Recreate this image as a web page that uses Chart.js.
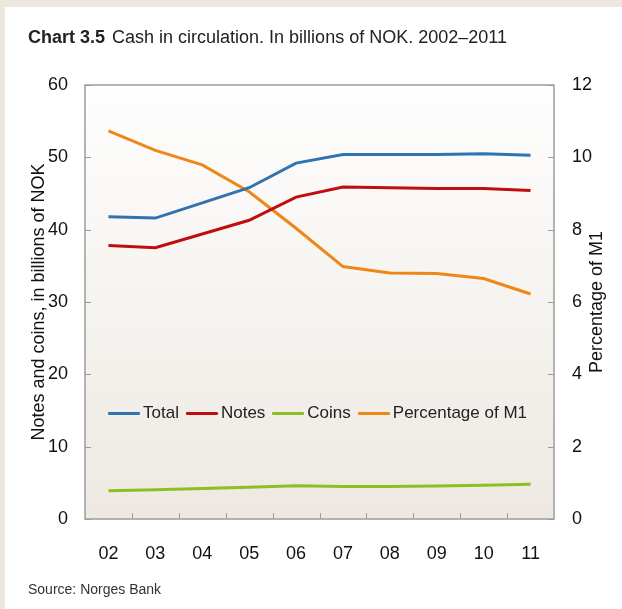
<!DOCTYPE html>
<html>
<head>
<meta charset="utf-8">
<script src="https://cdn.jsdelivr.net/npm/chart.js@4.4.1/dist/chart.umd.min.js"></script>
<style>
  body { margin: 0; background: #fff; font-family: "Liberation Sans", Arial, sans-serif; color: #222; }
  #wrap { position: relative; width: 622px; height: 609px; overflow: hidden; }
  #c { position: absolute; left: 0; top: 0; }
  .strip { position: absolute; background: #ece7df; }
  #title { position: absolute; left: 28px; top: 27px; font-size: 18px; white-space: nowrap; }
  #title b { margin-right: 7px; }
  #source { position: absolute; left: 28px; top: 581px; font-size: 14px; color: #333; }
  #legend { position: absolute; left: 108px; top: 403px; font-size: 17px; white-space: nowrap; }
  #legend span.item { display: inline-block; margin-right: 7px; }
  #legend i { display: inline-block; width: 32px; height: 3px; vertical-align: middle; margin-right: 3px; border-radius: 1px; }
</style>
</head>
<body>
<div id="wrap">
  <canvas id="c" width="622" height="609"></canvas>
  <div class="strip" style="left:0;top:0;width:622px;height:7px"></div>
  <div class="strip" style="left:0;top:0;width:5px;height:609px"></div>
  <div id="title"><b>Chart 3.5</b>Cash in circulation. In billions of NOK. 2002–2011</div>
  <div id="legend"></div>
  <div id="source">Source: Norges Bank</div>
</div>
<script>
// years 2002-2011
var years = ['02', '03', '04', '05', '06', '07', '08', '09', '10', '11'];

// billions of NOK (left axis)
var total = [41.8, 41.6, 43.7, 45.8, 49.2, 50.4, 50.4, 50.4, 50.5, 50.3];
var notes = [37.8, 37.5, 39.4, 41.3, 44.5, 45.9, 45.8, 45.7, 45.7, 45.4];
var coins = [3.9, 4.05, 4.2, 4.4, 4.6, 4.5, 4.5, 4.55, 4.65, 4.8];

// percent of M1 (right axis)
var pctM1 = [10.73, 10.19, 9.79, 9.05, 8.04, 6.98, 6.80, 6.79, 6.65, 6.22];

var leftTicks = [0, 10, 20, 30, 40, 50, 60];
var rightTicks = [0, 2, 4, 6, 8, 10, 12];

var series = [
  { label: 'Total', data: total, color: '#3174ad', axis: 'y' },
  { label: 'Notes', data: notes, color: '#c00d0d', axis: 'y' },
  { label: 'Coins', data: coins, color: '#8cbf26', axis: 'y' },
  { label: 'Percentage of M1', data: pctM1, color: '#ee8618', axis: 'y1' }
];

var font = "'Liberation Sans', Arial, sans-serif";

// legend sits inside the plot, so it is done in html
var legendHtml = '';
series.forEach(function (s) {
  legendHtml += '<span class="item"><i style="background:' + s.color + '"></i>' + s.label + '</span>';
});
document.getElementById('legend').innerHTML = legendHtml;

// plot background, frame, inward ticks and the right axis title (reads bottom-up)
var framePlugin = {
  id: 'frame',
  beforeDraw: function (chart) {
    var ctx = chart.ctx, a = chart.chartArea;
    var g = ctx.createLinearGradient(0, a.top, 0, a.bottom);
    g.addColorStop(0, '#fefefe');
    g.addColorStop(1, '#ede9e2');
    ctx.save();
    ctx.fillStyle = g;
    ctx.fillRect(a.left, a.top, a.right - a.left, a.bottom - a.top);
    ctx.restore();
  },
  afterDatasetsDraw: function (chart) {
    var ctx = chart.ctx, a = chart.chartArea, sc = chart.scales;
    ctx.save();
    ctx.strokeStyle = '#9c9c9c';
    ctx.lineWidth = 1.5;
    ctx.strokeRect(a.left, a.top, a.right - a.left, a.bottom - a.top);
    ctx.lineWidth = 1;
    ctx.beginPath();
    sc.y.ticks.forEach(function (t, i) {
      var p = Math.round(sc.y.getPixelForTick(i)) + 0.5;
      ctx.moveTo(a.left, p); ctx.lineTo(a.left + 6, p);
    });
    sc.y1.ticks.forEach(function (t, i) {
      var p = Math.round(sc.y1.getPixelForTick(i)) + 0.5;
      ctx.moveTo(a.right - 6, p); ctx.lineTo(a.right, p);
    });
    for (var i = 1; i < years.length; i++) {
      var x = Math.round((sc.x.getPixelForValue(i - 1) + sc.x.getPixelForValue(i)) / 2) + 0.5;
      ctx.moveTo(x, a.bottom); ctx.lineTo(x, a.bottom - 6);
    }
    ctx.stroke();

    ctx.translate(sc.y1.right - 10, (a.top + a.bottom) / 2);
    ctx.rotate(-Math.PI / 2);
    ctx.fillStyle = '#111';
    ctx.font = '18px ' + font;
    ctx.textAlign = 'center';
    ctx.textBaseline = 'middle';
    ctx.fillText('Percentage of M1', 0, 0);
    ctx.restore();
  }
};

var ctx = document.getElementById('c').getContext('2d');
var chart = new Chart(ctx, {
  type: 'line',
  data: {
    labels: years,
    datasets: series.map(function (s) {
      return {
        label: s.label,
        data: s.data,
        yAxisID: s.axis,
        borderColor: s.color,
        backgroundColor: s.color,
        borderWidth: 3,
        pointRadius: 0,
        tension: 0,
        fill: false
      };
    })
  },
  options: {
    responsive: false,
    animation: false,
    layout: { padding: { top: 85, left: 28, right: 15, bottom: 40 } },
    plugins: {
      legend: { display: false },
      tooltip: { enabled: false }
    },
    scales: {
      x: {
        offset: true,
        grid: { display: false },
        border: { display: false },
        ticks: { color: '#111', padding: 16, font: { family: font, size: 18 } },
        afterFit: function (s) { s.height = 50; }
      },
      y: {
        position: 'left',
        min: 0, max: 60,
        afterBuildTicks: function (s) { s.ticks = leftTicks.map(function (v) { return { value: v }; }); },
        grid: { display: false, drawTicks: false },
        border: { display: false },
        ticks: { color: '#111', padding: 17, font: { family: font, size: 18 } },
        title: {
          display: true,
          text: 'Notes and coins, in billions of NOK',
          color: '#111',
          padding: 0,
          font: { family: font, size: 18 }
        },
        afterFit: function (s) { s.width = 57; }
      },
      y1: {
        position: 'right',
        min: 0, max: 12,
        afterBuildTicks: function (s) { s.ticks = rightTicks.map(function (v) { return { value: v }; }); },
        grid: { display: false, drawTicks: false },
        border: { display: false },
        ticks: { color: '#111', padding: 18, font: { family: font, size: 18 } },
        afterFit: function (s) { s.width = 53; }
      }
    }
  },
  plugins: [framePlugin]
});
</script>
</body>
</html>
